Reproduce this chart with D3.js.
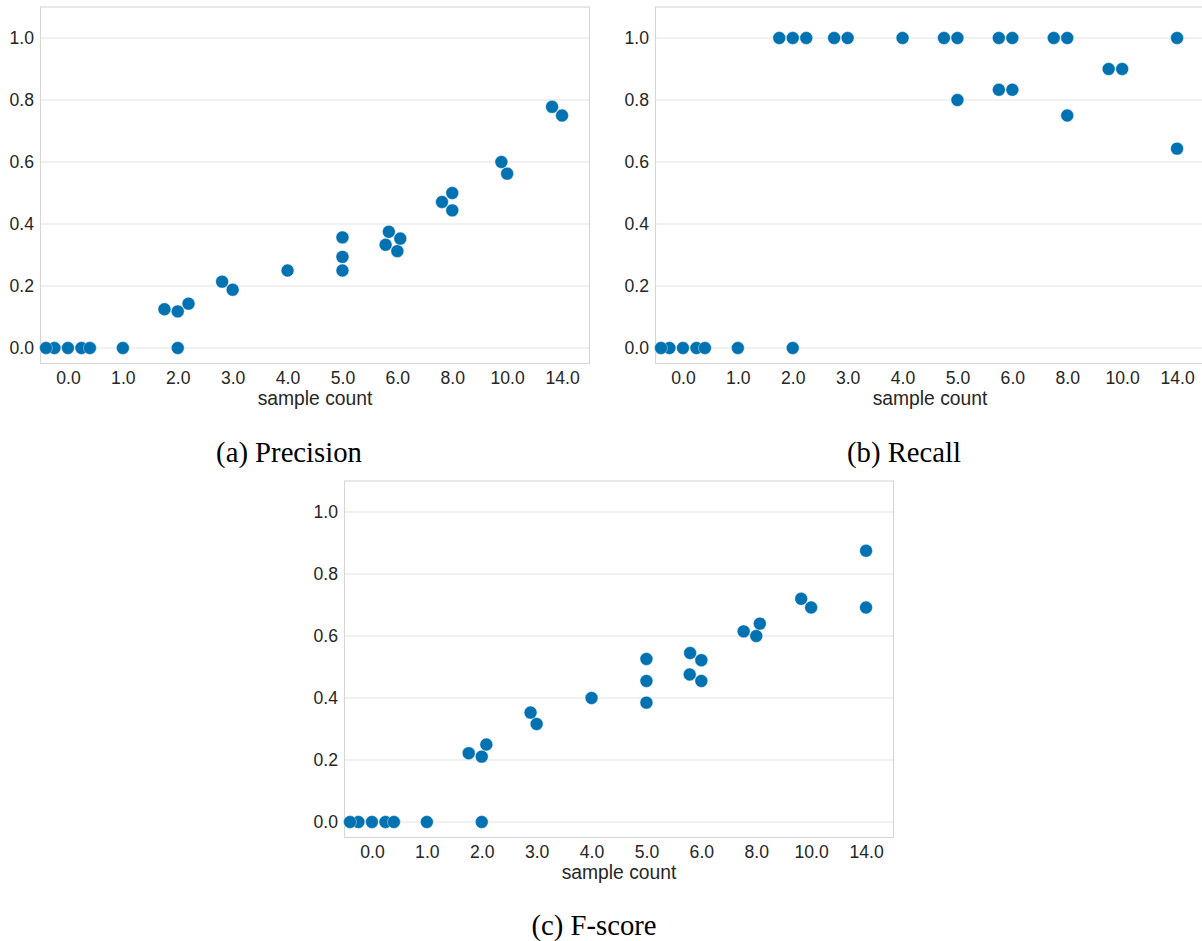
<!DOCTYPE html>
<html>
<head>
<meta charset="utf-8">
<script src="https://cdn.jsdelivr.net/npm/d3@7"></script>
<style>
  html, body { margin: 0; padding: 0; background: #ffffff; }
  svg { display: block; }
</style>
</head>
<body>
<svg id="chart" width="1202" height="941"></svg>
<script>
// ---------- data ----------
const categories = ["0.0", "1.0", "2.0", "3.0", "4.0", "5.0", "6.0", "8.0", "10.0", "14.0"];
const yTicks = [0.0, 0.2, 0.4, 0.6, 0.8, 1.0];

// values per category (same order as categories)
const precisionValues = [
  [0, 0, 0, 0, 0],
  [0],
  [0, 0.125, 0.118, 0.143],
  [0.214, 0.188],
  [0.25],
  [0.25, 0.294, 0.357],
  [0.333, 0.375, 0.3125, 0.353],
  [0.471, 0.5, 0.444],
  [0.6, 0.5625],
  [0.778, 0.75]
];
const recallValues = [
  [0, 0, 0, 0, 0],
  [0],
  [0, 1, 1, 1],
  [1, 1],
  [1],
  [1, 1, 0.8],
  [1, 1, 0.833, 0.833],
  [1, 1, 0.75],
  [0.9, 0.9],
  [1, 0.643]
];
const fscoreValues = [
  [0, 0, 0, 0, 0],
  [0],
  [0, 0.222, 0.211, 0.25],
  [0.353, 0.316],
  [0.4],
  [0.526, 0.455, 0.385],
  [0.545, 0.476, 0.522, 0.455],
  [0.615, 0.6, 0.64],
  [0.72, 0.692],
  [0.875, 0.692]
];
const captions = ["(a) Precision", "(b) Recall", "(c) F-score"];
const xLabel = "sample count";

// ---------- layout ----------
const panels = [
  { values: precisionValues, caption: captions[0], left: 40.5, right: 589.5, top: 7, bottom: 363.5, capX: 289, capY: 461.5 },
  { values: recallValues,    caption: captions[1], left: 655.5, right: 1204.5, top: 7, bottom: 363.5, capX: 904, capY: 461.5 },
  { values: fscoreValues,    caption: captions[2], left: 344.5, right: 893.5, top: 481, bottom: 837.5, capX: 594, capY: 935 }
];

const COLOR = "#0072B2";
const R_DRAW = 6.45;
const R_SWARM = 6.43;
const TICK_FONT = 17.6;
const LABEL_FONT = 19.3;
const svg = d3.select("#chart");

// seaborn-like beeswarm in pixel space
function swarm(points, midline, halfWidth) {
  const sorted = points.slice().sort((a, b) => a.v - b.v);
  const placed = [];
  sorted.forEach((p, idx) => {
    const yi = -p.y; // upward coords
    if (idx === 0) { placed.push({ x: midline, y: yi, p }); return; }
    const neighbors = [];
    for (let j = placed.length - 1; j >= 0; j--) {
      if (yi - placed[j].y < 2 * R_SWARM) neighbors.push(placed[j]);
      else break;
    }
    neighbors.reverse();
    const cands = [midline];
    let leftFirst = true;
    neighbors.forEach(n => {
      const dy = yi - n.y;
      const dx = Math.sqrt(Math.max((2 * R_SWARM) ** 2 - dy * dy, 0)) * 1.05;
      if (leftFirst) cands.push(n.x - dx, n.x + dx); else cands.push(n.x + dx, n.x - dx);
      leftFirst = !leftFirst;
    });
    const order = cands.map((c, k) => ({ c, k })).sort((a, b) => {
      const da = Math.abs(a.c - midline), db = Math.abs(b.c - midline);
      return da - db || a.k - b.k;
    });
    let chosen = order[order.length - 1].c;
    for (const o of order) {
      const ok = neighbors.every(n => {
        const dx = o.c - n.x, dy = yi - n.y;
        return dx * dx + dy * dy - (2 * R_SWARM) ** 2 >= -1e-6;
      });
      if (ok) { chosen = o.c; break; }
    }
    placed.push({ x: chosen, y: yi, p });
  });
  return placed.map(d => ({
    x: Math.max(midline - halfWidth, Math.min(midline + halfWidth, d.x)),
    y: -d.y
  }));
}

panels.forEach(pn => {
  const x = d3.scalePoint().domain(categories).range([pn.left, pn.right]).padding(0.5);
  const y = d3.scaleLinear().domain([-0.05, 1.1]).range([pn.bottom, pn.top]);
  const g = svg.append("g");

  // grid
  g.append("g").selectAll("line").data(yTicks).join("line")
    .attr("x1", pn.left).attr("x2", pn.right)
    .attr("y1", d => y(d)).attr("y2", d => y(d))
    .attr("stroke", "#e3e3e3").attr("stroke-width", 1.1);

  // frame
  g.append("rect")
    .attr("x", pn.left).attr("y", pn.top)
    .attr("width", pn.right - pn.left).attr("height", pn.bottom - pn.top)
    .attr("fill", "none").attr("stroke", "#d6d6d6").attr("stroke-width", 1.1);

  // y axis
  const yAxis = d3.axisLeft(y).tickValues(yTicks).tickFormat(d3.format(".1f")).tickSize(0).tickPadding(6.5);
  const ya = g.append("g").attr("transform", `translate(${pn.left},0)`).call(yAxis);
  ya.select(".domain").remove();
  ya.selectAll("text").attr("font-family", "Liberation Sans, Arial, sans-serif").attr("font-size", TICK_FONT).attr("fill", "#262626");

  // x axis
  const xAxis = d3.axisBottom(x).tickSize(0).tickPadding(8);
  const xa = g.append("g").attr("transform", `translate(0,${pn.bottom})`).call(xAxis);
  xa.select(".domain").remove();
  xa.selectAll("text").attr("font-family", "Liberation Sans, Arial, sans-serif").attr("font-size", TICK_FONT).attr("fill", "#262626");

  // x label
  g.append("text")
    .attr("x", (pn.left + pn.right) / 2).attr("y", pn.bottom + 41)
    .attr("text-anchor", "middle")
    .attr("font-family", "Liberation Sans, Arial, sans-serif").attr("font-size", LABEL_FONT)
    .attr("fill", "#262626").text(xLabel);

  // points
  const step = x.step();
  categories.forEach((c, i) => {
    const pts = pn.values[i].map(v => ({ v, y: y(v) }));
    const pos = swarm(pts, x(c), 0.4 * step);
    g.append("g").selectAll("circle").data(pos).join("circle")
      .attr("cx", d => d.x).attr("cy", d => d.y).attr("r", R_DRAW)
      .attr("fill", COLOR).attr("stroke", "#ffffff").attr("stroke-width", 0.4);
  });

  // caption
  svg.append("text")
    .attr("x", pn.capX).attr("y", pn.capY)
    .attr("text-anchor", "middle")
    .attr("font-family", "Liberation Serif, Times New Roman, serif").attr("font-size", 28.7)
    .attr("fill", "#000").text(pn.caption);
});
</script>
</body>
</html>
